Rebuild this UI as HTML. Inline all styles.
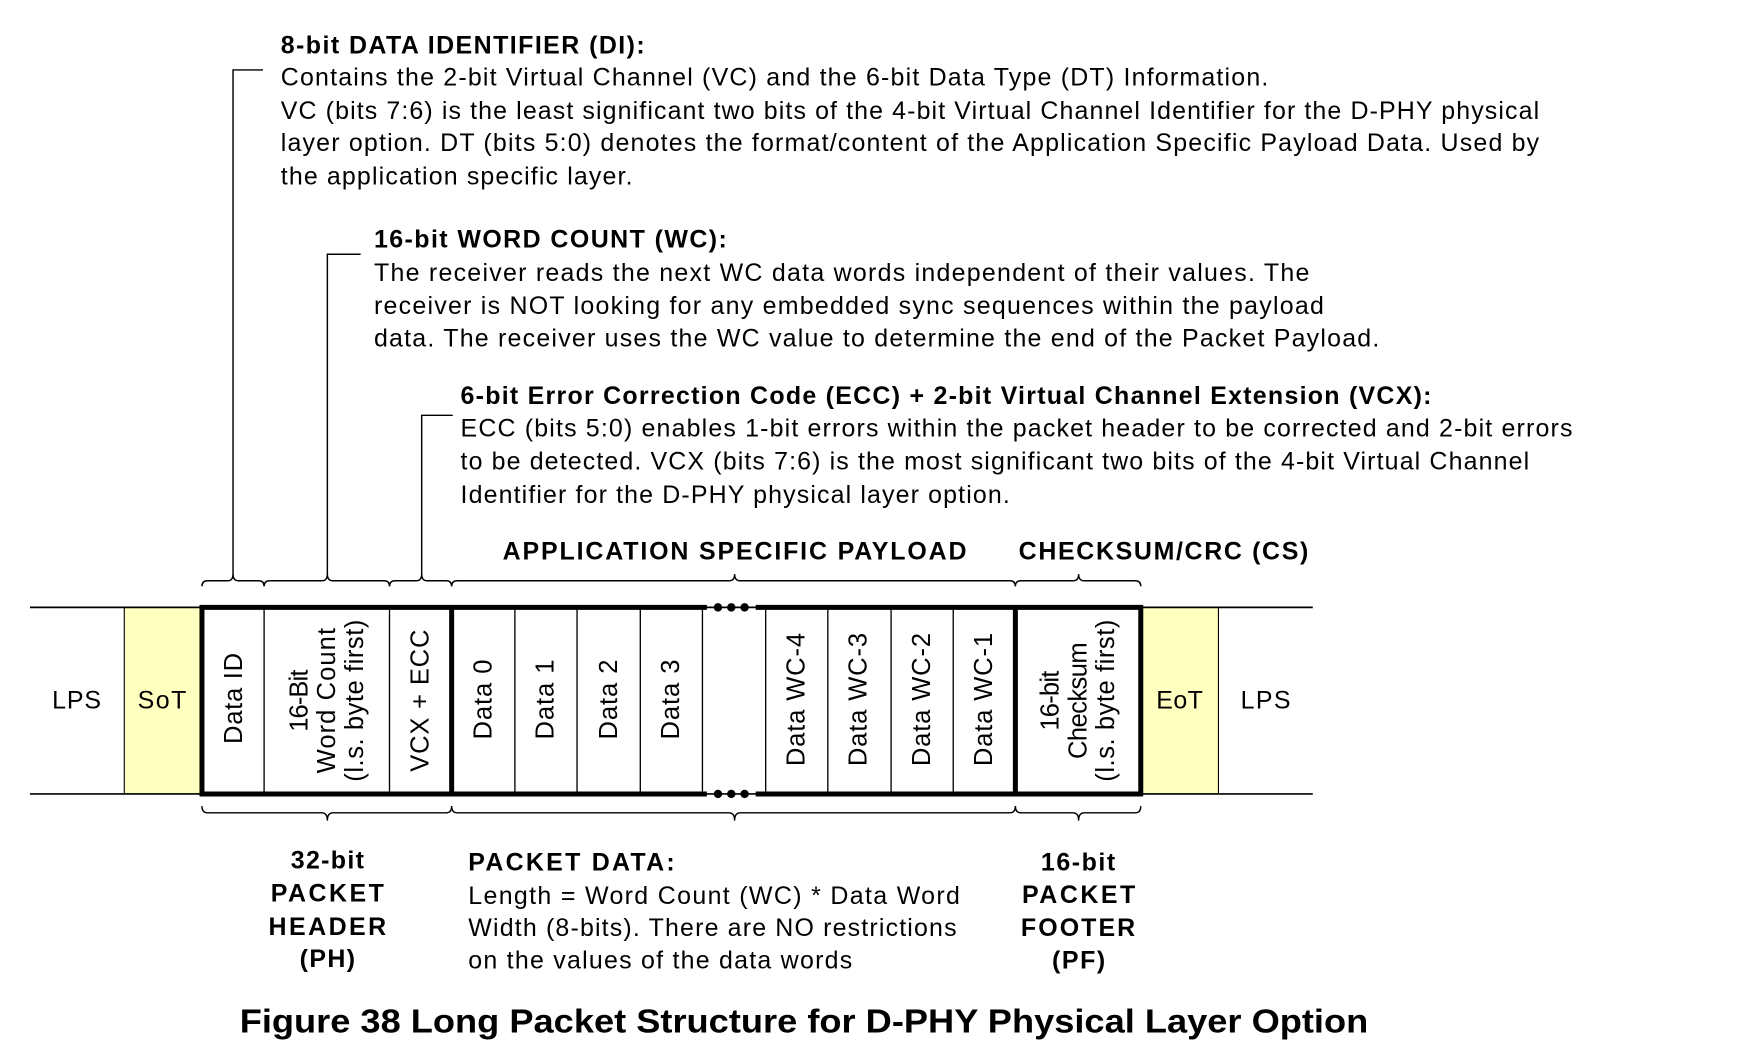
<!DOCTYPE html>
<html><head><meta charset="utf-8"><style>
html,body{margin:0;padding:0;background:#fff;}
svg{display:block;}
text{font-family:"Liberation Sans",Arial,sans-serif;fill:#000;}
.t{font-size:22.5px;}
.b{font-size:22.5px;font-weight:bold;}
.r{font-size:23px;}
</style></head><body>
<svg width="1740" height="1056" viewBox="0 0 1568 951" preserveAspectRatio="none" xmlns="http://www.w3.org/2000/svg">
<g lengthAdjust="spacingAndGlyphs">
<text class="b" x="253" y="48" textLength="328">8-bit DATA IDENTIFIER (DI):</text>
<text class="t" x="253" y="77" textLength="890">Contains the 2-bit Virtual Channel (VC) and the 6-bit Data Type (DT) Information.</text>
<text class="t" x="253" y="107" textLength="1134">VC (bits 7:6) is the least significant two bits of the 4-bit Virtual Channel Identifier for the D-PHY physical</text>
<text class="t" x="253" y="136" textLength="1134">layer option. DT (bits 5:0) denotes the format/content of the Application Specific Payload Data. Used by</text>
<text class="t" x="253" y="166" textLength="317">the application specific layer.</text>

<text class="b" x="337" y="223" textLength="318">16-bit WORD COUNT (WC):</text>
<text class="t" x="337" y="253" textLength="843">The receiver reads the next WC data words independent of their values. The</text>
<text class="t" x="337" y="283" textLength="856">receiver is NOT looking for any embedded sync sequences within the payload</text>
<text class="t" x="337" y="312" textLength="906">data. The receiver uses the WC value to determine the end of the Packet Payload.</text>

<text class="b" x="415" y="364" textLength="875">6-bit Error Correction Code (ECC) + 2-bit Virtual Channel Extension (VCX):</text>
<text class="t" x="415" y="393" textLength="1002">ECC (bits 5:0) enables 1-bit errors within the packet header to be corrected and 2-bit errors</text>
<text class="t" x="415" y="423" textLength="963">to be detected. VCX (bits 7:6) is the most significant two bits of the 4-bit Virtual Channel</text>
<text class="t" x="415" y="453" textLength="495">Identifier for the D-PHY physical layer option.</text>

<text class="b" x="453" y="504" textLength="418">APPLICATION SPECIFIC PAYLOAD</text>
<text class="b" x="918" y="504" textLength="261">CHECKSUM/CRC (CS)</text>
</g>

<g fill="none" stroke="#000" stroke-width="1.3">
<polyline points="237,63 210,63 210,518"/>
<polyline points="325,229 295,229 295,518"/>
<polyline points="408,374 380,374 380,518"/>
<path d="M182,528 Q182,523 187,523 L205,523 Q210,523 210,517 Q210,523 215,523 L233,523 Q238,523 238,528"/>
<path d="M238,528 Q238,523 243,523 L290,523 Q295,523 295,517 Q295,523 300,523 L346,523 Q351,523 351,528"/>
<path d="M351,528 Q351,523 356,523 L375,523 Q380,523 380,517 Q380,523 385,523 L402,523 Q407,523 407,528"/>
<path d="M407,528 Q407,523 412,523 L657,523 Q662,523 662,517 Q662,523 667,523 L910,523 Q915,523 915,528"/>
<path d="M915,528 Q915,523 920,523 L967,523 Q972,523 972,517 Q972,523 977,523 L1023,523 Q1028,523 1028,528"/>
<path d="M182,726 Q182,732 187,732 L290,732 Q295,732 295,739 Q295,732 300,732 L402,732 Q407,732 407,726"/>
<path d="M407,726 Q407,732 412,732 L657,732 Q662,732 662,739 Q662,732 667,732 L910,732 Q915,732 915,726"/>
<path d="M915,726 Q915,732 920,732 L967,732 Q972,732 972,739 Q972,732 977,732 L1023,732 Q1028,732 1028,726"/>
</g>
<rect x="112" y="547" width="70" height="168" fill="#ffffc0" stroke="#000" stroke-width="1"/>
<rect x="1028" y="547" width="70" height="168" fill="#ffffc0" stroke="#000" stroke-width="1"/>
<line x1="27" y1="547" x2="1183" y2="547" stroke="#000" stroke-width="1.5"/>
<line x1="27" y1="715" x2="1183" y2="715" stroke="#000" stroke-width="1.5"/>
<g stroke="#000" stroke-width="1.2">
<line x1="238" y1="547" x2="238" y2="715"/><line x1="351" y1="547" x2="351" y2="715"/>
<line x1="464" y1="547" x2="464" y2="715"/><line x1="520" y1="547" x2="520" y2="715"/>
<line x1="577" y1="547" x2="577" y2="715"/><line x1="633" y1="547" x2="633" y2="715"/>
<line x1="690" y1="547" x2="690" y2="715"/><line x1="746" y1="547" x2="746" y2="715"/>
<line x1="803" y1="547" x2="803" y2="715"/><line x1="859" y1="547" x2="859" y2="715"/>
</g>
<g stroke="#000" stroke-width="4.5">
<line x1="182" y1="545" x2="182" y2="717"/><line x1="407" y1="545" x2="407" y2="717"/>
<line x1="915" y1="545" x2="915" y2="717"/><line x1="1028" y1="545" x2="1028" y2="717"/>
<line x1="180" y1="547" x2="637" y2="547"/><line x1="681" y1="547" x2="1030" y2="547"/>
<line x1="180" y1="715" x2="637" y2="715"/><line x1="681" y1="715" x2="1030" y2="715"/>
</g>
<g fill="#000">
<circle cx="647" cy="547" r="3.8"/><circle cx="659" cy="547" r="3.8"/><circle cx="671" cy="547" r="3.8"/>
<circle cx="647" cy="715" r="3.8"/><circle cx="659" cy="715" r="3.8"/><circle cx="671" cy="715" r="3.8"/>
</g>
<g lengthAdjust="spacingAndGlyphs">
<text class="t" x="47" y="638" textLength="44">LPS</text>
<text class="t" x="124" y="638" textLength="44">SoT</text>
<text class="t" x="1042" y="638" textLength="42">EoT</text>
<text class="t" x="1118" y="638" textLength="45">LPS</text>
</g>
<g class="r" text-anchor="middle" lengthAdjust="spacingAndGlyphs">
<text transform="translate(218,629) rotate(-90)" textLength="82">Data ID</text>
<text transform="translate(301,631) rotate(-90)"><tspan x="0" y="-24" textLength="56">16-Bit</tspan><tspan x="0" y="1" textLength="131">Word Count</tspan><tspan x="0" y="26" textLength="146">(l.s. byte first)</tspan></text>
<text transform="translate(386,631) rotate(-90)" textLength="128">VCX + ECC</text>
<text transform="translate(443,630) rotate(-90)" textLength="72">Data 0</text>
<text transform="translate(499,630) rotate(-90)" textLength="72">Data 1</text>
<text transform="translate(556,630) rotate(-90)" textLength="72">Data 2</text>
<text transform="translate(612,630) rotate(-90)" textLength="72">Data 3</text>
<text transform="translate(725,630) rotate(-90)" textLength="120">Data WC-4</text>
<text transform="translate(781,630) rotate(-90)" textLength="120">Data WC-3</text>
<text transform="translate(838,630) rotate(-90)" textLength="120">Data WC-2</text>
<text transform="translate(894,630) rotate(-90)" textLength="120">Data WC-1</text>
<text transform="translate(978,631) rotate(-90)"><tspan x="0" y="-24" textLength="54">16-bit</tspan><tspan x="0" y="1" textLength="105">Checksum</tspan><tspan x="0" y="26" textLength="146">(l.s. byte first)</tspan></text>
</g>
<g class="b" lengthAdjust="spacingAndGlyphs">
<text x="262" y="782" textLength="66">32-bit</text><text x="244" y="812" textLength="102">PACKET</text><text x="242" y="842" textLength="106">HEADER</text><text x="270" y="871" textLength="50">(PH)</text>
<text x="938" y="784" textLength="67">16-bit</text><text x="921" y="813" textLength="102">PACKET</text><text x="920" y="843" textLength="103">FOOTER</text><text x="948" y="872" textLength="48">(PF)</text>
<text x="422" y="784" textLength="186">PACKET DATA:</text>
</g>
<g class="t" lengthAdjust="spacingAndGlyphs">
<text x="422" y="814" textLength="443">Length = Word Count (WC) * Data Word</text>
<text x="422" y="843" textLength="440">Width (8-bits). There are NO restrictions</text>
<text x="422" y="872" textLength="346">on the values of the data words</text>
</g>
<text x="216" y="930" textLength="1017" lengthAdjust="spacingAndGlyphs" style="font-size:30px;font-weight:bold;">Figure 38 Long Packet Structure for D-PHY Physical Layer Option</text>
</svg>
</body></html>
